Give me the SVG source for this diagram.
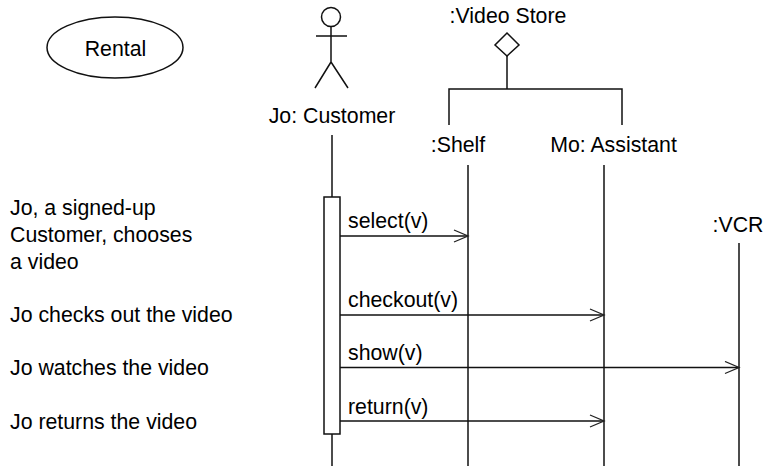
<svg xmlns="http://www.w3.org/2000/svg" width="763" height="466" viewBox="0 0 763 466">
<defs><marker id="a" markerUnits="userSpaceOnUse" markerWidth="18" markerHeight="14" refX="16" refY="7" orient="auto"><path d="M2 1L16 7L2 13" fill="none" stroke="#222" stroke-width="1.3"/></marker></defs>
<style>text{font-family:"Liberation Sans",Arial,sans-serif;font-size:21.3px;fill:#000}.l,.c line,.c path{stroke:#111;stroke-width:1.5;fill:none}.m{text-anchor:middle}</style>
<rect width="763" height="466" fill="#fff"/>
<g id="rental"><ellipse class="l" cx="115" cy="47.500" rx="68" ry="30.500"/><text class="m" x="115.500" y="56">Rental</text></g>
<g id="customer"><circle class="l" cx="331" cy="17" r="9.500"/><path class="l" d="M331 26.500V62M316 36H347M331 62L315 88M331 62L348 88"/><text class="m" x="332" y="123">Jo: Customer</text></g>
<g id="store"><text class="m" x="508" y="23">:Video Store</text><path class="l" d="M507 33L519 45L507 56L495 45Z"/></g>
<g id="shelf"><text class="m" x="458" y="152">:Shelf</text></g>
<g id="assistant"><text class="m" x="613.500" y="152">Mo: Assistant</text></g>
<g id="vcr"><text class="m" x="738" y="232">:VCR</text></g>
<g id="activation"><rect class="l" x="324" y="197" width="16" height="237"/></g>
<g id="notes"><text x="10" y="215">Jo, a signed-up</text><text x="10" y="242">Customer, chooses</text><text x="10" y="269">a video</text><text x="10" y="322">Jo checks out the video</text><text x="10" y="375">Jo watches the video</text><text x="10" y="429">Jo returns the video</text></g>
<g class="c" id="connectors"><path d="M507 56V89M449 125V89H622V125"/><line x1="332" y1="135" x2="332" y2="197"/><line x1="332" y1="434" x2="332" y2="466"/><line x1="468" y1="165" x2="468" y2="466"/><line x1="604" y1="165" x2="604" y2="466"/><line x1="739" y1="243" x2="739" y2="466"/>
<line x1="340" y1="236" x2="468" y2="236" marker-end="url(#a)"/><line x1="340" y1="315" x2="604" y2="315" marker-end="url(#a)"/><line x1="340" y1="367.500" x2="739" y2="367.500" marker-end="url(#a)"/><line x1="340" y1="421" x2="604" y2="421" marker-end="url(#a)"/></g>
<g id="labels"><text x="348" y="228">select(v)</text><text x="348" y="307">checkout(v)</text><text x="348" y="360">show(v)</text><text x="348" y="414">return(v)</text></g>
</svg>
